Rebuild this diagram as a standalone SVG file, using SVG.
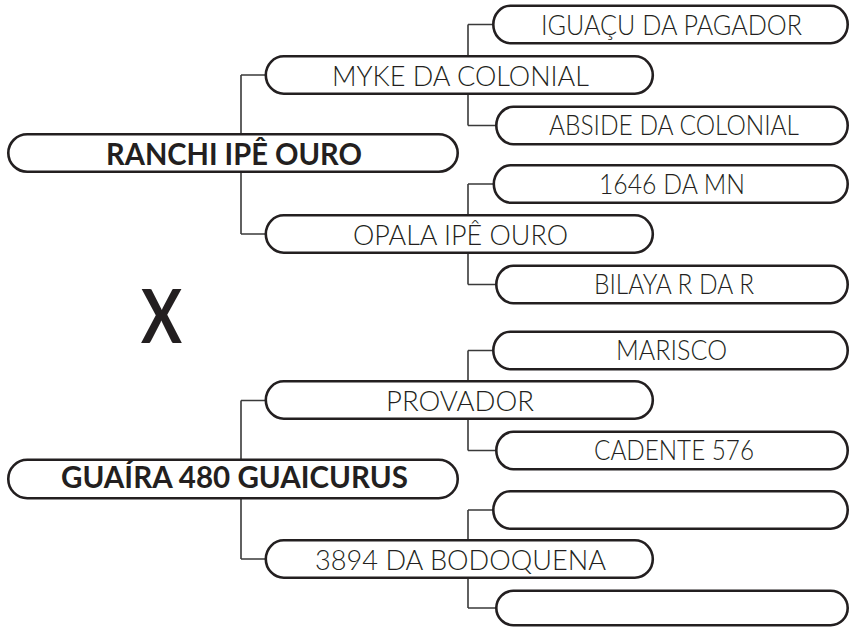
<svg xmlns="http://www.w3.org/2000/svg" width="850" height="627" viewBox="0 0 850 627">
<style>
.box{fill:#fff;stroke:#231f20;stroke-width:2.6}
.con{fill:none;stroke:#3a3a3a;stroke-width:1.6}
.t{font-family:Lato,"Liberation Sans",sans-serif;font-weight:300;font-size:27.5px;fill:#231f20;text-anchor:middle}
.b{font-family:Lato,"Liberation Sans",sans-serif;font-weight:700;font-size:30.5px;fill:#231f20;text-anchor:middle}
.x{font-family:Lato,"Liberation Sans",sans-serif;font-weight:700;font-size:74px;fill:#231f20;text-anchor:middle}
</style>
<rect width="850" height="627" fill="#fff"/>
<g id="connectors" class="con">
<path d="M241,75 V234 M241,75 H266 M241,234 H266"/>
<path d="M468,24.5 V125.5 M468,24.5 H493 M468,125.5 H496"/>
<path d="M468,184 V284.5 M468,184 H494 M468,284.5 H496"/>
<path d="M241,400.5 V559 M241,400.5 H266 M241,559 H266"/>
<path d="M468,350.5 V450.5 M468,350.5 H493 M468,450.5 H496"/>
<path d="M468,510 V608 M468,510 H493 M468,608 H496"/>
</g>
<g id="root1">
<rect class="box" x="8.3" y="134.3" width="449.4" height="37.4" rx="19" ry="18.7"/>
<text class="b" x="234" y="165" textLength="256" lengthAdjust="spacingAndGlyphs">RANCHI IPÊ OURO</text>
</g>
<g id="myke">
<rect class="box" x="265.8" y="56.3" width="387" height="37.4" rx="18" ry="18.7"/>
<text class="t" x="460.5" y="85.5" textLength="257" lengthAdjust="spacingAndGlyphs">MYKE DA COLONIAL</text>
</g>
<g id="opala">
<rect class="box" x="265.8" y="215.3" width="387" height="37.4" rx="18" ry="18.7"/>
<text class="t" x="460.5" y="244.5" textLength="215" lengthAdjust="spacingAndGlyphs">OPALA IPÊ OURO</text>
</g>
<g id="iguacu">
<rect class="box" x="493.3" y="5.8" width="354.4" height="37.4" rx="17" ry="18.7"/>
<text class="t" x="671.5" y="34.5" textLength="261" lengthAdjust="spacingAndGlyphs">IGUAÇU DA PAGADOR</text>
</g>
<g id="abside">
<rect class="box" x="496.3" y="106.8" width="351.4" height="37.4" rx="17" ry="18.7"/>
<text class="t" x="674" y="135" textLength="250" lengthAdjust="spacingAndGlyphs">ABSIDE DA COLONIAL</text>
</g>
<g id="n1646">
<rect class="box" x="493.8" y="165.3" width="353.9" height="37.4" rx="17" ry="18.7"/>
<text class="t" x="672" y="194" textLength="146" lengthAdjust="spacingAndGlyphs">1646 DA MN</text>
</g>
<g id="bilaya">
<rect class="box" x="496.3" y="265.8" width="351.4" height="37.4" rx="17" ry="18.7"/>
<text class="t" x="674" y="293.5" textLength="160" lengthAdjust="spacingAndGlyphs">BILAYA R DA R</text>
</g>
<g id="x-mark">
<text class="x" x="161.5" y="343" textLength="41" lengthAdjust="spacingAndGlyphs">X</text>
</g>
<g id="root2">
<rect class="box" x="8.3" y="459.8" width="449.4" height="38.4" rx="19" ry="19"/>
<text class="b" x="234.5" y="487.5" textLength="347" lengthAdjust="spacingAndGlyphs">GUAÍRA 480 GUAICURUS</text>
</g>
<g id="provador">
<rect class="box" x="265.8" y="381.3" width="387" height="37.4" rx="18" ry="18.7"/>
<text class="t" x="460" y="410.5" textLength="148" lengthAdjust="spacingAndGlyphs">PROVADOR</text>
</g>
<g id="bodoquena">
<rect class="box" x="265.8" y="540.3" width="387" height="37.4" rx="18" ry="18.7"/>
<text class="t" x="460.5" y="569.5" textLength="291" lengthAdjust="spacingAndGlyphs">3894 DA BODOQUENA</text>
</g>
<g id="marisco">
<rect class="box" x="493.3" y="331.8" width="354.4" height="37.4" rx="17" ry="18.7"/>
<text class="t" x="671.5" y="360" textLength="111" lengthAdjust="spacingAndGlyphs">MARISCO</text>
</g>
<g id="cadente">
<rect class="box" x="496.3" y="431.8" width="351.4" height="37.4" rx="17" ry="18.7"/>
<text class="t" x="674" y="459.5" textLength="160" lengthAdjust="spacingAndGlyphs">CADENTE 576</text>
</g>
<g id="empty1">
<rect class="box" x="493.3" y="491.3" width="354.4" height="37.4" rx="17" ry="18.7"/>
</g>
<g id="empty2">
<rect class="box" x="496.3" y="590.8" width="351.4" height="34.4" rx="17" ry="17.2"/>
</g>
</svg>
